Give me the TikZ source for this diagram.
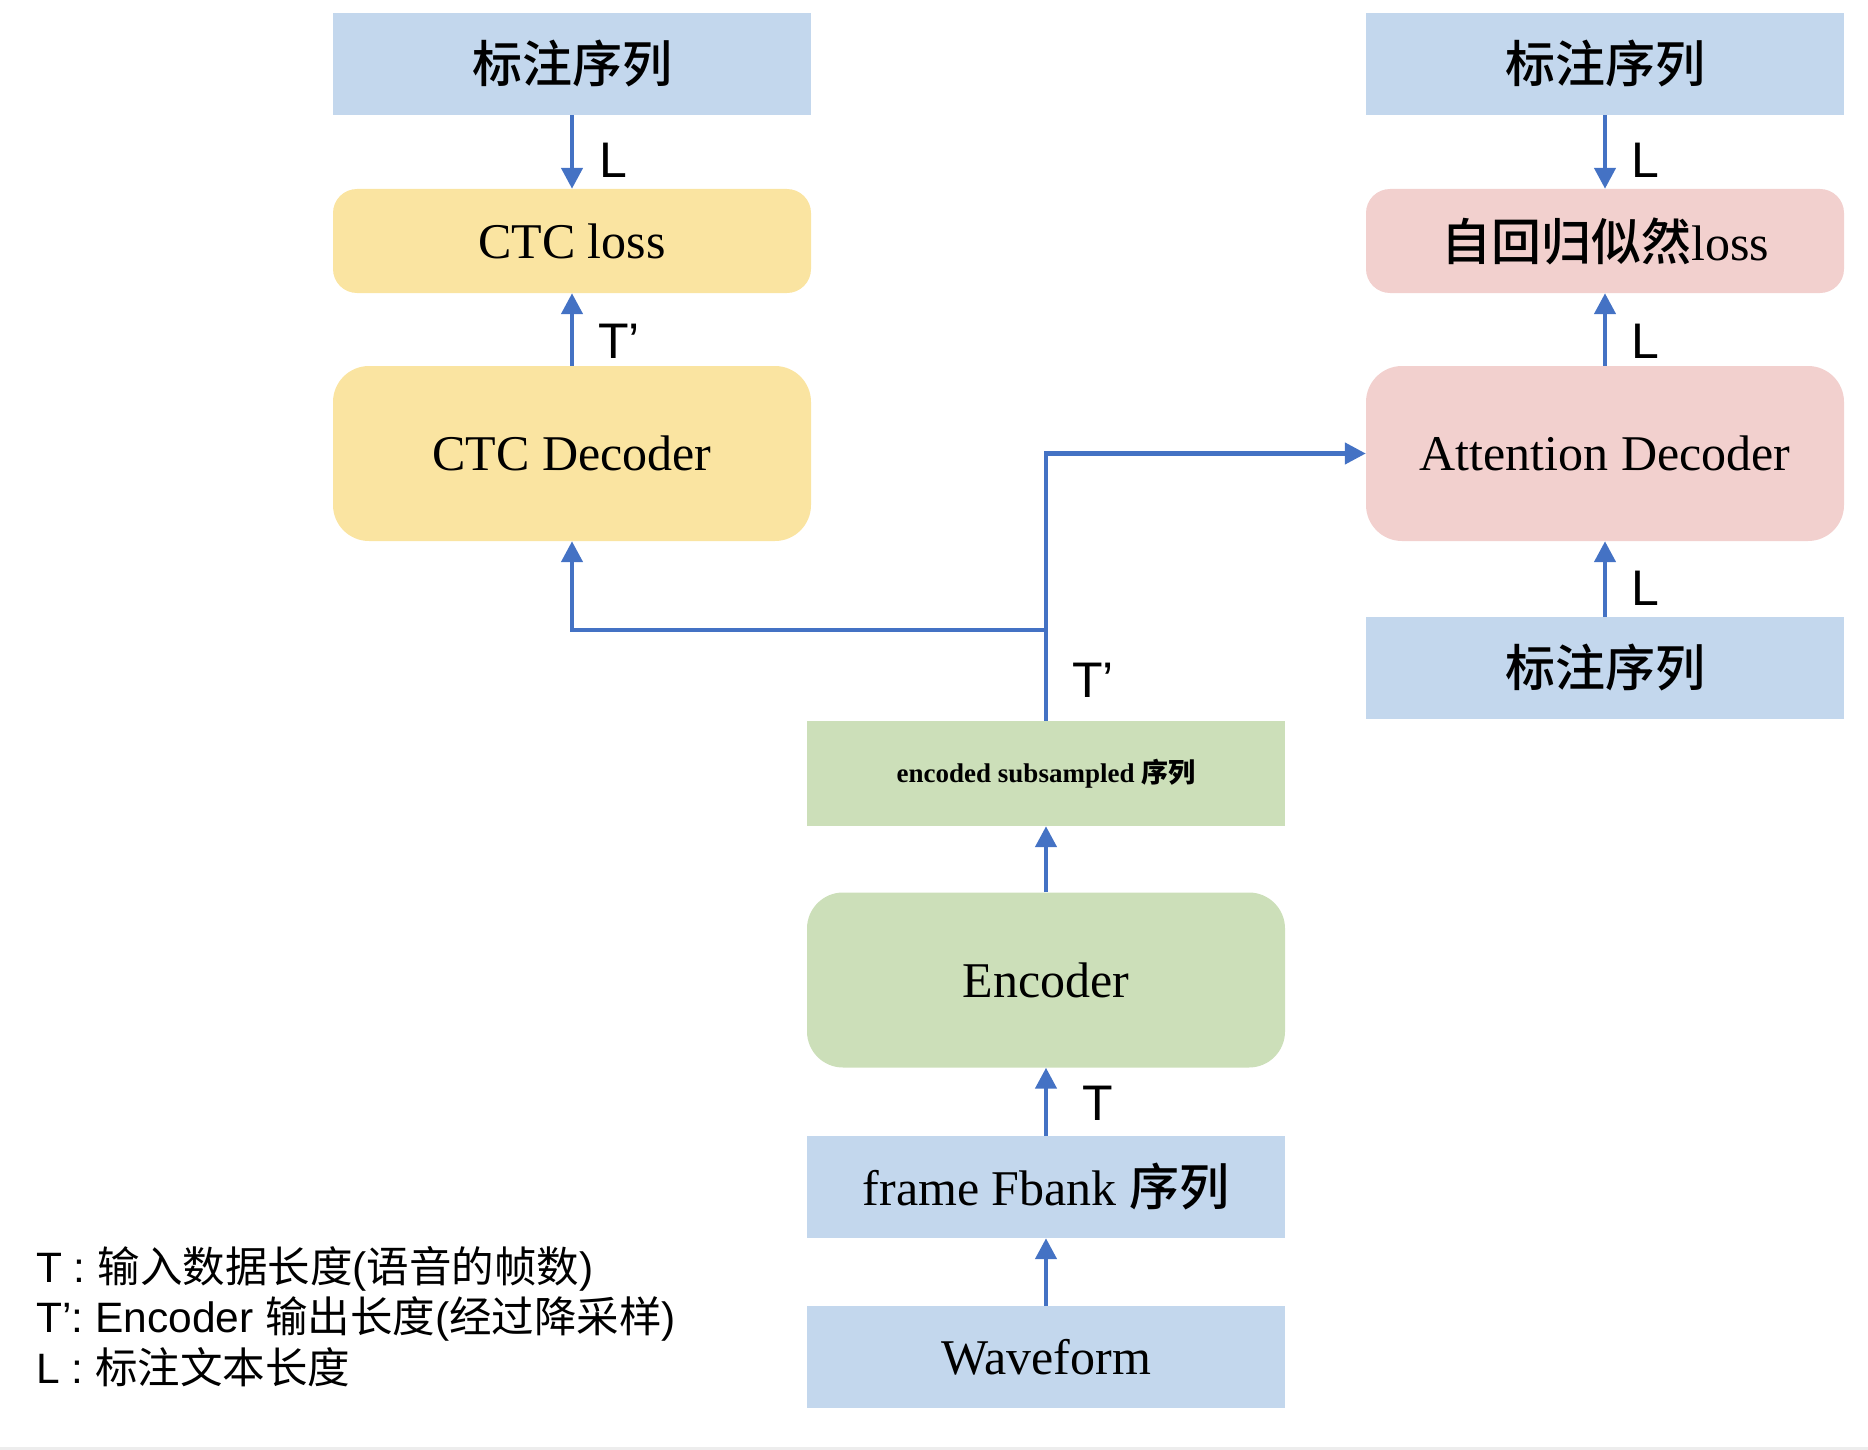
\documentclass[tikz,border=0pt]{standalone}
\usepackage{fontspec}
\setmainfont{Liberation Serif}
\setsansfont{Liberation Sans}
\newfontfamily\cjk{Noto Sans CJK SC}
\newfontfamily\cjkb{Noto Sans CJK SC Medium}
\usetikzlibrary{arrows.meta}
\definecolor{boxblue}{HTML}{C3D7ED}
\definecolor{boxyellow}{HTML}{FAE4A1}
\definecolor{boxpink}{HTML}{F2D0CE}
\definecolor{boxgreen}{HTML}{CCDFB9}
\definecolor{arrowblue}{HTML}{4472C4}
\tikzset{
  box/.style={minimum width=478pt, inner sep=0pt, font=\fontsize{50}{60}\selectfont},
  sqbox/.style={box, minimum height=102pt},
  rndbox/.style={box, rounded corners=24pt, minimum height=104pt},
  bigbox/.style={box, rounded corners=36pt, minimum height=175pt},
  wire/.style={draw=arrowblue, line width=4.5pt},
  conn/.style={wire, -{Triangle[width=21pt,length=21pt]}},
  lbl/.style={anchor=base west, inner sep=0pt, font=\sffamily\fontsize{50}{60}\selectfont},
  legend/.style={anchor=base west, inner sep=0pt, font=\sffamily\fontsize{42.5}{50}\selectfont},
}
\begin{document}
\begin{tikzpicture}[x=1pt, y=-1pt]
\useasboundingbox (0,0) rectangle (1868,1450);
\draw[draw=black!7, line width=3pt] (0,1448) -- (1868,1448);
% left column
\node[sqbox, fill=boxblue] (lab1) at (572,64) {\cjkb 标注序列};
\node[rndbox, fill=boxyellow] (ctcloss) at (572,241) {CTC loss};
\node[bigbox, fill=boxyellow] (ctcdec) at (572,453.5) {CTC Decoder};
% right column
\node[sqbox, fill=boxblue] (lab2) at (1605,64) {\cjkb 标注序列};
\node[rndbox, fill=boxpink] (arloss) at (1605,241) {{\cjkb 自回归似然}loss};
\node[bigbox, fill=boxpink] (attdec) at (1605,453.5) {Attention Decoder};
\node[sqbox, fill=boxblue] (lab3) at (1605,668) {\cjkb 标注序列};
% middle column
\node[box, minimum height=105pt, fill=boxgreen, font=\bfseries\fontsize{27}{34}\selectfont] (encoded) at (1046,773.5) {encoded subsampled {\cjkb 序列}};
\node[bigbox, fill=boxgreen] (encoder) at (1046,980) {Encoder};
\node[sqbox, fill=boxblue] (fbank) at (1046,1187) {frame Fbank {\cjkb 序列}};
\node[sqbox, fill=boxblue] (wave) at (1046,1357) {Waveform};
% connectors
\coordinate (j) at (1046,630);
\draw[conn] (lab1.south) -- (ctcloss.north);
\draw[conn] (ctcdec.north) -- (ctcloss.south);
\draw[conn] (lab2.south) -- (arloss.north);
\draw[conn] (attdec.north) -- (arloss.south);
\draw[conn] (lab3.north) -- (attdec.south);
\draw[wire] (encoded.north) -- (j);
\draw[conn] (j) -| (ctcdec.south);
\draw[conn] (j) |- (attdec.west);
\draw[conn] (encoder.north) -- (encoded.south);
\draw[conn] (fbank.north) -- (encoder.south);
\draw[conn] (wave.north) -- (fbank.south);
% labels
\node[lbl] (l1) at (599,178) {L};
\node[lbl] (t1) at (598,358) {T’};
\node[lbl] (l2) at (1631,178) {L};
\node[lbl] (l3) at (1631,358) {L};
\node[lbl] (l4) at (1631,605) {L};
\node[lbl] (t2) at (1072,697) {T’};
\node[lbl] (t3) at (1082,1120) {T};
% legend
\node[legend] (leg1) at (36,1282) {T : {\cjk 输入数据长度}({\cjk 语音的帧数})};
\node[legend] (leg2) at (36,1332) {T’: Encoder {\cjk 输出长度}({\cjk 经过降采样})};
\node[legend] (leg3) at (36,1383) {L : {\cjk 标注文本长度}};
\end{tikzpicture}
\end{document}
